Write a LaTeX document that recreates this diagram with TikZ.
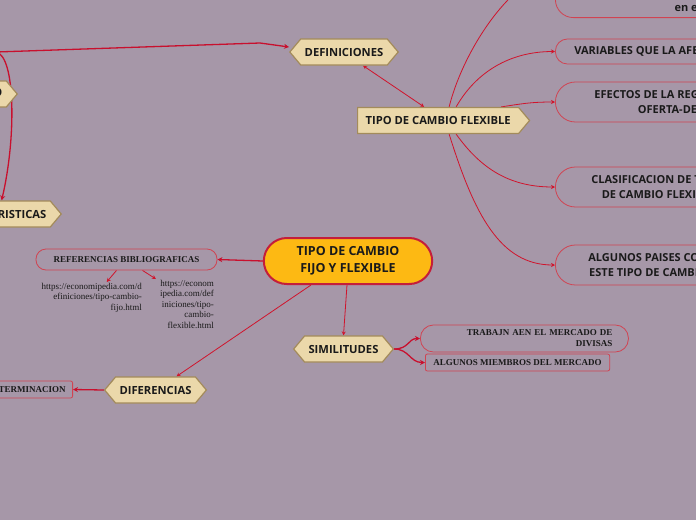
\documentclass[tikz,border=0pt]{standalone}
\usepackage{fontspec}
\setmainfont{Open Sans}
\newfontfamily\refserif{Liberation Serif}
\usetikzlibrary{shapes.misc,shapes.symbols,arrows.meta,backgrounds}
\definecolor{MapBack}{HTML}{A697A8}
\definecolor{MapInk}{HTML}{1A1A1A}
\definecolor{MapCrimson}{HTML}{C8102E}
\definecolor{MapRed}{HTML}{D0142C}
\definecolor{MapBoxLine}{HTML}{D04452}
\definecolor{MapTopic}{HTML}{EBD8AA}
\definecolor{MapTopicLine}{HTML}{A38B5B}
\definecolor{MapCentral}{HTML}{FDB913}
\definecolor{MapCentralLine}{HTML}{C41E3A}
\tikzset{
    % main idea in the middle
    central/.style={
        rounded rectangle,
        draw=MapCentralLine,
        line width=2pt,
        fill=MapCentral,
        text=MapInk,
        minimum width=175pt,
        minimum height=46pt,
        align=center,
        font=\bfseries\fontsize{12.5}{17}\selectfont
    },
    % hexagon topics
    topic/.style={
        signal,
        signal to=west and east,
        signal pointer angle=100,
        draw=MapTopicLine,
        line width=1.2pt,
        fill=MapTopic,
        text=MapInk,
        minimum height=26pt,
        inner xsep=4pt,
        font=\bfseries\fontsize{11.2}{13}\selectfont
    },
    sidebox/.style={
        rectangle,
        draw=MapBoxLine,
        line width=0.8pt,
        text=MapInk,
        anchor=west,
        align=center,
        font=\bfseries\fontsize{11}{15}\selectfont
    },
    refbox/.style={
        rectangle,
        draw=MapBoxLine,
        line width=0.8pt,
        text=MapInk,
        font=\refserif\bfseries\fontsize{9}{11}\selectfont
    },
    urltext/.style={
        align=right,
        inner sep=1pt,
        text=MapInk,
        font=\refserif\fontsize{9}{10.5}\selectfont
    },
    thicklink/.style={
        -{Stealth[length=5pt,width=5pt]},
        line width=1.3pt,
        color=MapCrimson
    },
    thinlink/.style={
        -{Stealth[length=4pt,width=4pt]},
        line width=0.8pt,
        color=MapRed
    }
}
\begin{document}
\begin{tikzpicture}[x=1pt,y=-1pt]
\useasboundingbox (0,0) rectangle (696,520);

\node[central] (central) at (348,261) {TIPO DE CAMBIO\\FIJO Y FLEXIBLE};
\node[topic] (definiciones) at (344,52) {DEFINICIONES};
\node[topic, anchor=east] (fijo) at (18,94) {TIPO DE CAMBIO FIJO};
\node[topic, anchor=east] (caracteristicas) at (62,214) {CARACTERISTICAS};
\node[topic, signal from=nowhere, signal to=east, inner xsep=8pt, anchor=west] (flexible) at (357,120.5) {TIPO DE CAMBIO FLEXIBLE};
\node[topic] (diferencias) at (155.5,390) {DIFERENCIAS};
\node[topic] (similitudes) at (343.5,349) {SIMILITUDES};

% boxes on the right
\node[sidebox, anchor=south west, rounded corners=18pt, minimum width=200pt, minimum height=86pt] (topbox) at (555,18) {};
\node[anchor=base west, text=MapInk, font=\bfseries\fontsize{11}{15}\selectfont] (topboxtext) at (671,11) {en el};
\node[sidebox, rounded corners=12pt, minimum height=25pt, inner xsep=19pt] (variables) at (555,51.5) {VARIABLES QUE LA AFECTAN};
\node[sidebox, rounded corners=20pt, minimum height=40pt, inner xsep=39pt] (efectos) at (555,102) {EFECTOS DE LA REGULACION DE LA\\OFERTA-DEMANDA};
\node[sidebox, rounded corners=20pt, minimum height=40pt, inner xsep=36pt] (clasificacion) at (555,187) {CLASIFICACION DE TIPOS\\DE CAMBIO FLEXIBLE};
\node[sidebox, rounded corners=20pt, minimum height=40pt, inner xsep=33pt] (paises) at (555,265) {ALGUNOS PAISES CON\\ESTE TIPO DE CAMBIO};

% references
\node[refbox, rounded corners=10pt, minimum width=181pt, minimum height=21pt] (referencias) at (126.5,259.5) {REFERENCIAS BIBLIOGRAFICAS};
\node[urltext, anchor=north east] (url1) at (143,282) {https://economipedia.com/d\\efiniciones/tipo-cambio-\\fijo.html};
\node[urltext, anchor=north east] (url2) at (215,279) {https://econom\\ipedia.com/def\\iniciones/tipo-\\cambio-\\flexible.html};

\node[refbox, rounded corners=2pt, anchor=east, minimum height=17pt, inner xsep=7pt] (terminacion) at (73,389.5) {DETERMINACION};
\node[refbox, rounded corners=13pt, anchor=west, minimum height=27pt, text width=176pt, inner xsep=16pt, align=right] (trabajn) at (420,338.5) {TRABAJN AEN EL MERCADO DE\\DIVISAS};
\node[refbox, rounded corners=2pt, anchor=west, minimum width=183pt, minimum height=17pt, inner xsep=8pt] (miembros) at (425,362.5) {ALGUNOS MIEMBROS DEL MERCADO};

\coordinate (src) at (-4,52);
\coordinate (bend) at (260,43);

\begin{scope}[on background layer]
\fill[MapBack] (0,0) rectangle (696,520);
\draw[thicklink] (src) -- (bend) -- ([yshift=5pt]definiciones.west);
\draw[thicklink] (src) .. controls (16,56) and (16,140) .. ([xshift=-49pt]caracteristicas.north east);
\draw[thinlink, {Stealth[length=4pt,width=4pt]}-{Stealth[length=4pt,width=4pt]}] ([xshift=19pt]definiciones.south) -- ([xshift=-14pt]flexible.north);
\draw[thinlink] ([xshift=11pt]flexible.north) .. controls +(15,-60) and +(-40,0) .. (topbox.west);
\draw[thinlink] ([xshift=18pt]flexible.north) .. controls +(20,-35) and +(-45,0) .. (variables.west);
\draw[thinlink] ([xshift=63pt]flexible.north) .. controls +(20,-3) and +(-25,0) .. (efectos.west);
\draw[thinlink] ([xshift=18pt]flexible.south) .. controls +(25,35) and +(-45,0) .. (clasificacion.west);
\draw[thinlink] ([xshift=11pt]flexible.south) .. controls +(25,80) and +(-55,0) .. (paises.west);
\draw[thicklink] (central.west) -- (referencias.east);
\draw[thinlink] ([xshift=-10pt]referencias.south) -- ([xshift=15pt]url1.north);
\draw[thinlink] ([xshift=16pt]referencias.south) -- ([xshift=-31pt]url2.north);
\draw[thinlink] ([xshift=-37pt]central.south) -- ([xshift=21pt]diferencias.north);
\draw[thinlink] ([xshift=-1pt]central.south) -- (similitudes.north);
\draw[thicklink] (diferencias.west) -- (terminacion.east);
\draw[thicklink] (similitudes.east) .. controls +(15,0) and +(-12,0) .. (trabajn.west);
\draw[thicklink] (similitudes.east) .. controls +(15,0) and +(-15,0) .. (miembros.west);
\end{scope}
\end{tikzpicture}
\end{document}
